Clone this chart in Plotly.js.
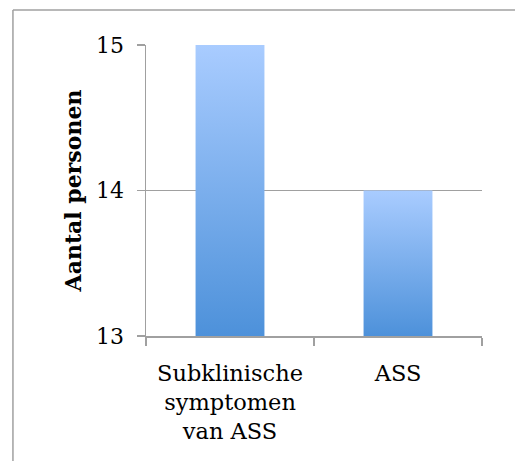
<!DOCTYPE html>
<html>
<head>
<meta charset="utf-8">
<script src="https://cdn.plot.ly/plotly-3.0.1.min.js"></script>
<style>html,body{margin:0;padding:0;background:#fff;}#chart{width:515px;height:461px;}</style>
</head>
<body>
<div id="chart"></div>
<script>
const categories = ["Subklinische<br>symptomen<br>van ASS", "ASS"];
const values = [15, 14];
const yTicks = [13, 14, 15];
const yTitle = "Aantal personen";

const fontFam = "DejaVu Serif, serif";
const gray = "#a0a0a0";

const trace = {
  type: "bar",
  x: categories,
  y: values,
  width: 0.41,
  marker: {color: "#7aaee8", line: {width: 0}},
  hoverinfo: "none"
};

const layout = {
  width: 515, height: 461,
  margin: {l: 146, r: 33, t: 45, b: 125},
  paper_bgcolor: "#fff", plot_bgcolor: "#fff",
  showlegend: false,
  font: {family: fontFam, size: 22, color: "#000"},
  xaxis: {
    type: "category",
    showline: true, linecolor: gray, linewidth: 1.5,
    ticks: "outside", tickson: "boundaries", ticklen: 8, tickcolor: gray, tickwidth: 1.5,
    ticklabelstandoff: 16,
    showgrid: false, zeroline: false,
    tickfont: {family: fontFam, size: 22.5, color: "#000"}
  },
  yaxis: {
    range: [13, 15],
    tickvals: yTicks,
    ticktext: yTicks.map(String),
    showline: true, linecolor: gray, linewidth: 1.5,
    ticks: "outside", ticklen: 8, tickcolor: gray, tickwidth: 1.5,
    ticklabelstandoff: 8,
    showgrid: true, gridcolor: gray, gridwidth: 1.5,
    zeroline: false,
    tickfont: {family: fontFam, size: 22, color: "#000"},
    title: {text: "<b>" + yTitle + "</b>", font: {family: fontFam, size: 22, color: "#000"}, standoff: 8}
  },
  shapes: [
    {type: "line", xref: "paper", yref: "paper", x0: -0.396, x1: -0.396, y0: -0.5, y1: 1.1203, line: {color: gray, width: 1.5}},
    {type: "line", xref: "paper", yref: "paper", x0: -0.396, x1: 1.2, y0: 1.1203, y1: 1.1203, line: {color: gray, width: 1.5}}
  ]
};

Plotly.newPlot("chart", [trace], layout, {staticPlot: true}).then(function(gd){
  const ns = "http://www.w3.org/2000/svg";
  const svg = gd.querySelector("svg.main-svg");
  let defs = svg.querySelector("defs");
  if (!defs) { defs = document.createElementNS(ns, "defs"); svg.insertBefore(defs, svg.firstChild); }
  const plotH = gd._fullLayout._size.h;
  gd.querySelectorAll(".bars .point path").forEach(function(p, i){
    const bb = p.getBBox();
    const top = Math.max(bb.y, 0);
    const bottom = Math.min(bb.y + bb.height, plotH);
    const g = document.createElementNS(ns, "linearGradient");
    g.setAttribute("id", "barGrad" + i);
    g.setAttribute("gradientUnits", "userSpaceOnUse");
    g.setAttribute("x1", bb.x); g.setAttribute("x2", bb.x);
    g.setAttribute("y1", top); g.setAttribute("y2", bottom);
    [["0", "#a9ccff"], ["1", "#4d91da"]].forEach(function(s){
      const st = document.createElementNS(ns, "stop");
      st.setAttribute("offset", s[0]);
      st.setAttribute("stop-color", s[1]);
      g.appendChild(st);
    });
    defs.appendChild(g);
    p.style.fill = "url(#barGrad" + i + ")";
  });
});
</script>
</body>
</html>
